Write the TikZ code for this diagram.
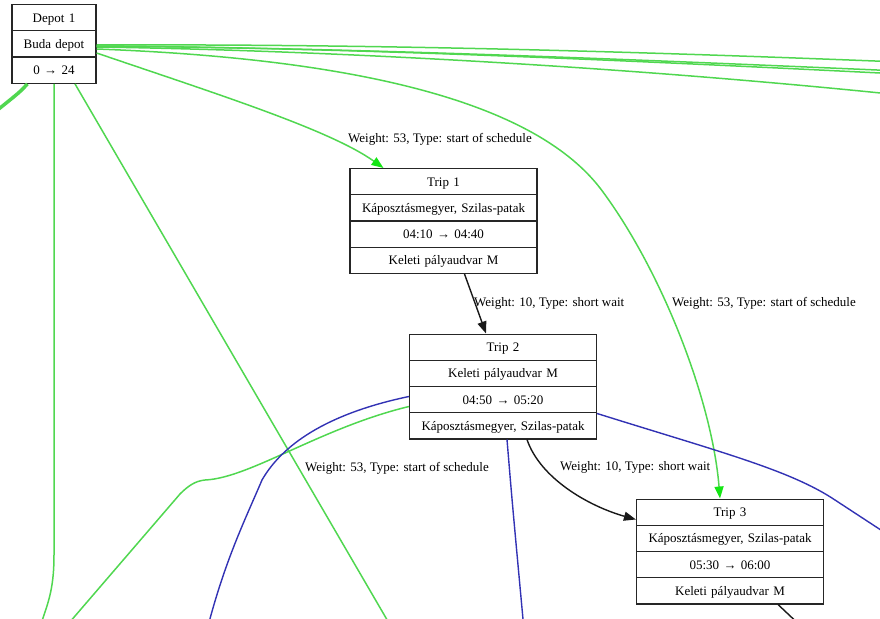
\documentclass[tikz,border=0pt]{standalone}
\usepackage{fontspec}
\setmainfont{Liberation Serif}
\usetikzlibrary{shapes.multipart}
\usetikzlibrary{arrows.meta}
\usetikzlibrary{calc}

\definecolor{edgegreen}{RGB}{80,215,80}
\definecolor{tipgreen}{RGB}{20,230,20}
\definecolor{edgeblue}{RGB}{50,50,180}
\newcommand{\rowfill}{\rule[-8pt]{0pt}{25pt}}

\begin{document}
\begin{tikzpicture}[x=1pt,y=-1pt,
  font=\fontsize{13}{15}\selectfont,
  record/.style={draw=black!85,line width=1.2pt,fill=white,rectangle split,rectangle split parts=4,
    inner xsep=6pt,inner ysep=0pt,text width=175pt,align=center},
  greenedge/.style={edgegreen,line width=1.5pt},
  greenarrow/.style={greenedge,-{Triangle[length=12pt,width=9pt,color=tipgreen]}},
  blueedge/.style={edgeblue,line width=1.4pt},
  waitedge/.style={black!90,line width=1.4pt},
  waitarrow/.style={waitedge,-{Triangle[length=12pt,width=9pt]}},
  lbl/.style={anchor=west,inner sep=0pt}]
  \useasboundingbox (0,0) rectangle (880,618);
  \clip (0,0) rectangle (880,618);

  \node[record,rectangle split parts=3,text width=72pt] (depot) at (54,44)
    {\rowfill Depot 1\nodepart{two}\rowfill Buda depot\nodepart{three}\rowfill 0 → 24};
  \node[record] (trip1) at (443.5,221)
    {\rowfill Trip 1\nodepart{two}\rowfill Káposztásmegyer, Szilas-patak\nodepart{three}\rowfill 04:10 → 04:40\nodepart{four}\rowfill Keleti pályaudvar M};
  \node[record] (trip2) at (503,386.5)
    {\rowfill Trip 2\nodepart{two}\rowfill Keleti pályaudvar M\nodepart{three}\rowfill 04:50 → 05:20\nodepart{four}\rowfill Káposztásmegyer, Szilas-patak};
  \node[record] (trip3) at (730,551.5)
    {\rowfill Trip 3\nodepart{two}\rowfill Káposztásmegyer, Szilas-patak\nodepart{three}\rowfill 05:30 → 06:00\nodepart{four}\rowfill Keleti pályaudvar M};

  %% loose ends, out of the frame
  \coordinate (offa) at (900,62);
  \coordinate (offb) at (900,71);
  \coordinate (offc) at (900,74);
  \coordinate (offd) at (900,95);
  \coordinate (offl) at (-5,112);
  \coordinate (offe) at (39,630);
  \coordinate (offf) at (393,630);
  \coordinate (offg) at (63,630);
  \coordinate (offh) at (207,630);
  \coordinate (offi) at (524,630);
  \coordinate (offj) at (890,536);
  \coordinate (offk) at (805,630);

  %% from the depot
  \draw[greenarrow] ($(depot.east)+(0,9)$) .. controls (220,95) and (330,130) .. ($(trip1.north)+(-60,0)$);
  \draw[greenarrow] ($(depot.east)+(0,5)$) .. controls (390,60) and (545,112) .. (603,192)
    .. controls (662,272) and (712,400) .. ($(trip3.north)+(-10,0)$);
  \draw[greenedge] ($(depot.east)+(0,1)$) .. controls (350,44) and (600,50) .. (offa);
  \draw[greenedge] ($(depot.east)+(0,2)$) .. controls (350,48) and (600,58) .. (offb);
  \draw[greenedge] ($(depot.east)+(0,2)$) .. controls (350,48) and (600,59) .. (offc);
  \draw[greenedge] ($(depot.east)+(0,3)$) .. controls (300,50) and (600,64) .. (offd);
  \draw[greenedge,line width=3.5pt] ($(depot.south west)+(16,0)$) .. controls (20,92) .. (offl);
  \draw[greenedge] (depot.south) -- (54,555) .. controls (54,592) and (47,605) .. (offe);
  \draw[greenedge] ($(depot.south)+(21,0)$) -- (offf);

  %% around trip 2
  \draw[greenedge] ($(trip2.west)+(0,20)$) .. controls (320,428) and (250,478) .. (205,480)
    .. controls (195,481) and (188,486) .. (180,494) -- (offg);
  \draw[blueedge] ($(trip2.west)+(0,10)$) .. controls (335,412) and (285,440) .. (262,480)
    .. controls (245,520) and (225,560) .. (offh);
  \draw[blueedge] ($(trip2.south)+(4,0)$) .. controls (512,500) .. (offi);
  \draw[blueedge] ($(trip2.east)+(0,27)$) .. controls (720,452) and (790,470) .. (835,500) -- (offj);

  %% short waits
  \draw[waitarrow] ($(trip1.south)+(21,0)$) -- ($(trip2.north)+(-17,0)$);
  \draw[waitarrow] ($(trip2.south)+(24,0)$) .. controls (540,478) and (588,506) .. ($(trip3.north west)+(0,21)$);
  \draw[waitedge] ($(trip3.south)+(48,0)$) -- (offk);

  \node[lbl] (w1) at (348,139) {Weight: 53, Type: start of schedule};
  \node[lbl] (w2) at (474,303) {Weight: 10, Type: short wait};
  \node[lbl] (w3) at (672,303) {Weight: 53, Type: start of schedule};
  \node[lbl] (w4) at (305,468) {Weight: 53, Type: start of schedule};
  \node[lbl] (w5) at (560,467) {Weight: 10, Type: short wait};
\end{tikzpicture}
\end{document}
